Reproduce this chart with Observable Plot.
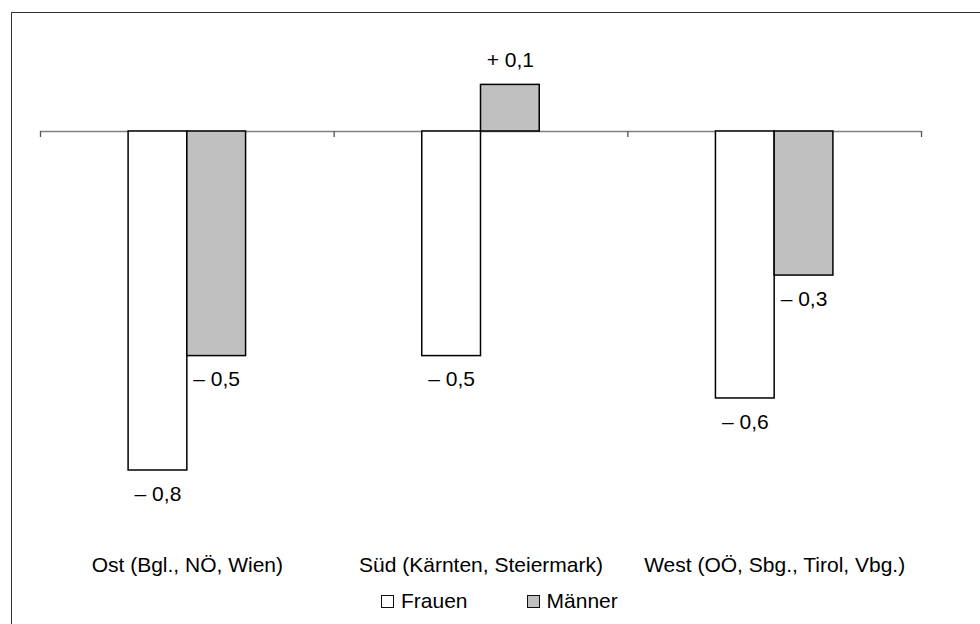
<!DOCTYPE html>
<html>
<head>
<meta charset="utf-8">
<script src="https://cdn.jsdelivr.net/npm/d3@7"></script>
<script src="https://cdn.jsdelivr.net/npm/@observablehq/plot@0.6"></script>
<style>
  html, body { margin: 0; padding: 0; background: #fff; overflow: hidden; }
  #wrap { position: relative; width: 980px; height: 624px; font-family: "Liberation Sans", Arial, sans-serif; }
  #border { position: absolute; left: 10.5px; top: 11.5px; width: 1200px; height: 1200px; border: 1.5px solid #333; box-sizing: border-box; pointer-events: none; }
  #legend { position: absolute; left: 381px; top: 590px; display: flex; align-items: center; font-size: 21px; line-height: 21px; color: #000; }
  .item { display: flex; align-items: center; }
  .sw { width: 11px; height: 11px; border: 1.3px solid #111; margin-top: 2px; margin-right: 7px; }
  svg { display: block; }
</style>
</head>
<body>
<div id="wrap">
  <div id="chart"></div>
  <div id="border"></div>
  <div id="legend"></div>
</div>
<script>
// ---- data ----
const regions = ["Ost (Bgl., NÖ, Wien)", "Süd (Kärnten, Steiermark)", "West (OÖ, Sbg., Tirol, Vbg.)"];
const seriesNames = ["Frauen", "Männer"];
const frauen = [-0.80, -0.53, -0.63];
const maenner = [-0.53, 0.11, -0.34];
const boundaries = [0, 1, 2, 3];

// ---- styles ----
const fills = {"Frauen": "#ffffff", "Männer": "#c0c0c0"};
const groupOffset = 0.3;   // fraction of category band before first bar
const barWidth = 0.2;      // fraction of category band per bar

const rows = [];
regions.forEach((r, i) => {
  [frauen, maenner].forEach((vals, s) => {
    const x1 = i + groupOffset + s * barWidth;
    rows.push({region: r, series: seriesNames[s], value: vals[i], x1, x2: x1 + barWidth, xm: x1 + barWidth / 2});
  });
});

const fmt = v => (v < 0 ? "\u2013 " : "+ ") + Math.abs(v).toFixed(1).replace(".", ",");

const chart = Plot.plot({
  width: 980,
  height: 624,
  marginLeft: 40,
  marginRight: 59,
  marginTop: 46.25,
  marginBottom: 69.25,
  style: {fontFamily: "'Liberation Sans', Arial, sans-serif", background: "transparent", color: "#000"},
  x: {type: "linear", domain: [0, 3]},
  y: {domain: [-1, 0.2], axis: null},
  marks: [
    Plot.ruleY([0], {stroke: "#808080", strokeWidth: 1.3}),
    Plot.rectY(rows, {x1: "x1", x2: "x2", y1: 0, y2: "value", fill: d => fills[d.series], stroke: "#000", strokeWidth: 1.5}),
    Plot.ruleX(boundaries, {x: d => d, y1: 0, y2: 0, insetBottom: -6, stroke: "#555", strokeWidth: 1.3}),
    Plot.text(rows.filter(d => d.value < 0), {x: "xm", y: "value", text: d => fmt(d.value), fontSize: 21, dy: 23.5, fill: "#000"}),
    Plot.text(rows.filter(d => d.value >= 0), {x: "xm", y: "value", text: d => fmt(d.value), fontSize: 21, dy: -25, fill: "#000"}),
    Plot.axisX({ticks: [0.5, 1.5, 2.5], tickFormat: d => regions[Math.floor(d)], tickSize: 0, tickPadding: 2, fontSize: 21, label: null})
  ]
});
document.getElementById("chart").appendChild(chart);

const legend = document.getElementById("legend");
seriesNames.forEach((name, k) => {
  const item = document.createElement("div");
  item.className = "item";
  if (k > 0) item.style.marginLeft = "59px";
  const sw = document.createElement("div");
  sw.className = "sw";
  sw.style.background = fills[name];
  const t = document.createElement("span");
  t.textContent = name;
  item.appendChild(sw);
  item.appendChild(t);
  legend.appendChild(item);
});
</script>
</body>
</html>
